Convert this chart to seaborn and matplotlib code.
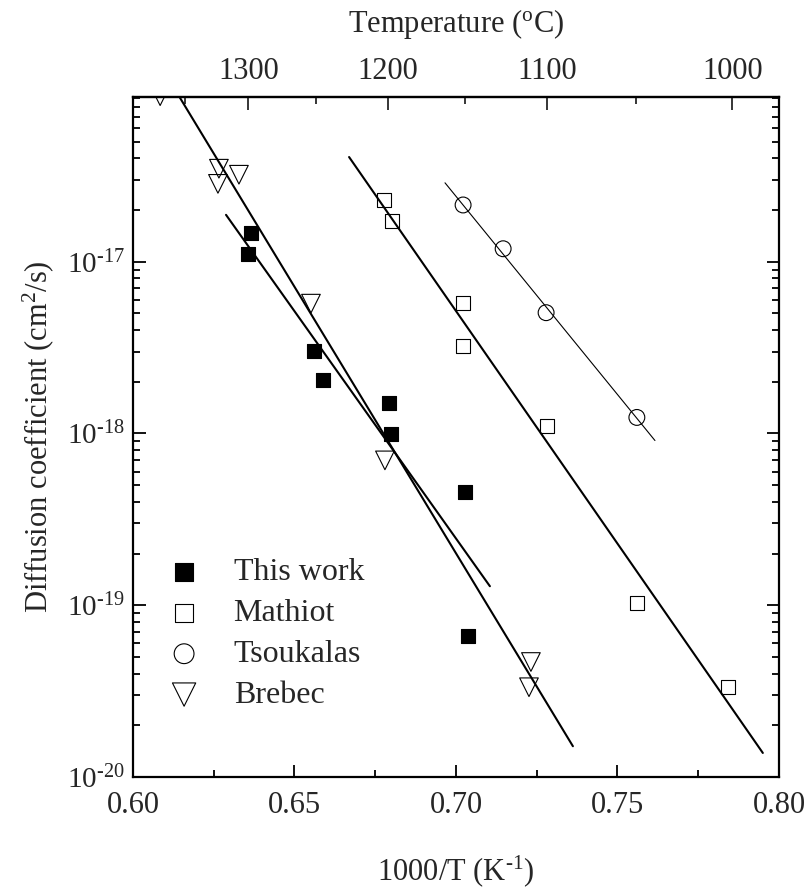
import matplotlib
matplotlib.use("Agg")
import matplotlib.pyplot as plt
import seaborn as sns
import pandas as pd
import math
from matplotlib.ticker import LogLocator, MultipleLocator, FixedLocator, NullFormatter

# data (x = 1000/T in 1/K, D in cm^2/s)
this_work_x = [0.6365, 0.6356, 0.6560, 0.6588, 0.6793, 0.6799, 0.7028, 0.7037]
this_work_d = [1.46e-17, 1.11e-17, 3.04e-18, 2.06e-18, 1.51e-18, 9.9e-19, 4.54e-19, 6.6e-20]

mathiot_x = [0.6777, 0.6802, 0.7022, 0.7022, 0.7282, 0.7560, 0.7842]
mathiot_d = [2.29e-17, 1.73e-17, 5.78e-18, 3.25e-18, 1.11e-18, 1.03e-19, 3.33e-20]

tsoukalas_x = [0.7022, 0.7146, 0.7279, 0.7560]
tsoukalas_d = [2.14e-17, 1.19e-17, 5.05e-18, 1.24e-18]

brebec_x = [0.6084, 0.6266, 0.6263, 0.6328, 0.6551, 0.6780, 0.7232, 0.7226]
brebec_d = [9.2e-17, 3.48e-17, 2.84e-17, 3.21e-17, 5.70e-18, 6.97e-19, 4.67e-20, 3.33e-20]

# Arrhenius fit lines (end points)
fit_this_x = [0.6288, 0.7105]
fit_this_d = [1.875e-17, 1.29e-19]
fit_brebec_x = [0.6120, 0.7362]
fit_brebec_d = [1.08e-16, 1.51e-20]
fit_mathiot_x = [0.6669, 0.7950]
fit_mathiot_d = [4.07e-17, 1.38e-20]
fit_tsoukalas_x = [0.6966, 0.7616]
fit_tsoukalas_d = [2.88e-17, 9.1e-19]

temp_major = [1000, 1100, 1200, 1300]
temp_minor = [1050, 1150, 1250, 1350]

sns.set_theme(style="ticks")
plt.rcParams['font.family'] = ['Liberation Serif', 'DejaVu Serif']
plt.rcParams['mathtext.fontset'] = 'custom'
plt.rcParams['mathtext.rm'] = 'Liberation Serif'
plt.rcParams['mathtext.it'] = 'Liberation Serif:italic'
plt.rcParams['mathtext.bf'] = 'Liberation Serif:bold'

fig = plt.figure(figsize=(8.1, 8.9), dpi=100)
ax = fig.add_axes([0.1642, 0.1270, 0.7975, 0.7640])

# fit lines
for fx, fd, lw in [(fit_this_x, fit_this_d, 1.5), (fit_brebec_x, fit_brebec_d, 1.5),
                   (fit_mathiot_x, fit_mathiot_d, 1.5), (fit_tsoukalas_x, fit_tsoukalas_d, 0.8)]:
    sns.lineplot(x=fx, y=fd, ax=ax, color="black", lw=lw, sort=False, estimator=None)

# data points
handles = []
series = [
    (this_work_x, this_work_d, "This work", "s", "black", 100),
    (mathiot_x, mathiot_d, "Mathiot", "s", "none", 100),
    (tsoukalas_x, tsoukalas_d, "Tsoukalas", "o", "none", 130),
    (brebec_x, brebec_d, "Brebec", "v", "none", 180),
]
for xs, ds, name, mk, fc, size in series:
    df = pd.DataFrame({"x": xs, "d": ds})
    sns.scatterplot(data=df, x="x", y="d", ax=ax, marker=mk, s=size,
                    facecolor=fc, edgecolor="black", linewidth=0.8, zorder=3)
    handles.append(ax.collections[-1])

ax.set_yscale("log")
ax.set_xlim(0.60, 0.80)
ax.set_ylim(1e-20, 9.1e-17)


def pow10(v, p):
    n = int(round(math.log10(v)))
    return "10$^{\\text{%d}}$" % n


ax.xaxis.set_major_locator(MultipleLocator(0.05))
ax.xaxis.set_minor_locator(MultipleLocator(0.025))
ax.xaxis.set_major_formatter(plt.FuncFormatter(lambda v, p: f"{v:.2f}"))
ax.yaxis.set_major_locator(LogLocator(base=10, numticks=10))
ax.yaxis.set_major_formatter(plt.FuncFormatter(pow10))
ax.yaxis.set_minor_locator(LogLocator(base=10, subs=range(2, 10), numticks=20))
ax.yaxis.set_minor_formatter(NullFormatter())

ax.tick_params(which="both", direction="in", top=False, right=True, color="black", width=1.3)
ax.tick_params(which="major", length=9)
ax.tick_params(which="minor", length=5)
ax.tick_params(axis="x", labelsize=22, pad=10)
ax.tick_params(axis="y", labelsize=21, pad=6)
for sp in ax.spines.values():
    sp.set_linewidth(1.6)
    sp.set_color("black")

ax.set_xlabel("1000/T (K$^{\\text{-1}}$)", fontsize=22, labelpad=24)
ax.set_ylabel("Diffusion coefficient (cm$^2$/s)", fontsize=22, labelpad=8)

# top temperature axis
sec = ax.secondary_xaxis("top", functions=(lambda x: 1000.0 / x - 273.0,
                                           lambda t: 1000.0 / (t + 273.0)))
sec.xaxis.set_major_locator(FixedLocator(temp_major))
sec.xaxis.set_minor_locator(FixedLocator(temp_minor))
sec.tick_params(which="both", direction="in", width=1.3, labelsize=22, pad=8)
sec.tick_params(which="major", length=9)
sec.tick_params(which="minor", length=5)
sec.spines["top"].set_linewidth(1.6)
sec.set_xlabel("Temperature ($^{\\rm o}$C)", fontsize=22, labelpad=18)

ax.legend(handles=handles, labels=[s[2] for s in series], loc="upper left",
          bbox_to_anchor=(0.042, 0.322), frameon=False, fontsize=23,
          borderpad=0, borderaxespad=0, handlelength=1.5, handletextpad=0.8,
          labelspacing=0.36, markerscale=1.25)

fig.savefig("out.png", dpi=100)
